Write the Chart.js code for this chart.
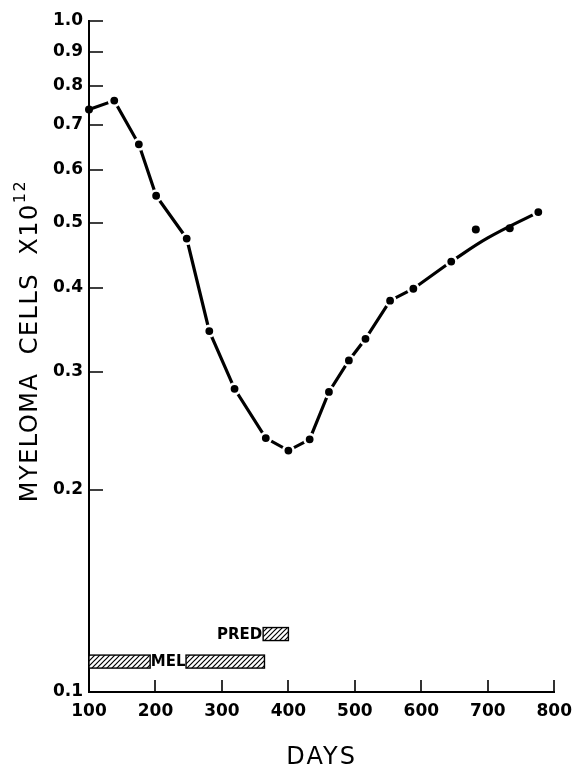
<!DOCTYPE html>
<html>
<head>
<meta charset="utf-8">
<script src="https://cdn.jsdelivr.net/npm/chart.js@4"></script>
<style>
    html, body { margin: 0; padding: 0; background: #fff; }
    #wrap { width: 581px; height: 769px; }
</style>
</head>
<body>
<div id="wrap"><canvas id="chart"></canvas></div>
<script>
// measured points (days, myeloma cells x 10^12)
const days = [100, 138, 175, 201, 247, 281, 319, 366, 400, 432, 461, 491, 516, 553, 588, 645, 682, 733, 776];
const cells = [0.738, 0.761, 0.655, 0.549, 0.474, 0.345, 0.283, 0.239, 0.229, 0.238, 0.280, 0.312, 0.336, 0.383, 0.399, 0.438, 0.489, 0.491, 0.519];
// the drawn line joins the first 16 points, then turns into a smooth curve
const joinedCount = 16;
const curveDays = [645, 700, 776];
const curveCells = [0.438, 0.475, 0.519];
// points that sit off the curve (no gap cut around them)
const offCurve = [0, 16, 17];

// treatment bars
const barNames = ['MEL', 'MEL', 'PRED'];
const barStart = [100, 246, 362];
const barEnd = [192, 364, 400];
const barLevel = [0.111, 0.111, 0.122];

// tick labels
const xTicks = [100, 200, 300, 400, 500, 600, 700, 800];
const yTicks = [0.1, 0.2, 0.3, 0.4, 0.5, 0.6, 0.7, 0.8, 0.9, 1.0];

const FONT = "'DejaVu Sans', sans-serif";

function makeHatch() {
    const c = document.createElement('canvas');
    c.width = 5; c.height = 5;
    const g = c.getContext('2d');
    g.strokeStyle = '#000';
    g.lineWidth = 1.2;
    g.beginPath();
    g.moveTo(0, 5); g.lineTo(5, 0);
    g.moveTo(-1, 1); g.lineTo(1, -1);
    g.moveTo(4, 6); g.lineTo(6, 4);
    g.stroke();
    return c;
}

const extras = {
    id: 'extras',
    afterDraw(chart) {
        const { ctx, chartArea, scales: { x, y } } = chart;
        ctx.save();

        // inward tick marks
        ctx.strokeStyle = '#000';
        ctx.lineWidth = 1.6;
        ctx.beginPath();
        yTicks.forEach(v => {
            const py = Math.round(y.getPixelForValue(v));
            ctx.moveTo(chartArea.left, py);
            ctx.lineTo(chartArea.left + 14, py);
        });
        xTicks.slice(1).forEach(v => {
            const px = Math.round(x.getPixelForValue(v));
            ctx.moveTo(px, chartArea.bottom);
            ctx.lineTo(px, chartArea.bottom - 12);
        });
        ctx.stroke();

        // hatched treatment bars
        const pattern = ctx.createPattern(makeHatch(), 'repeat');
        barNames.forEach((name, i) => {
            const x0 = x.getPixelForValue(barStart[i]);
            const x1 = x.getPixelForValue(barEnd[i]);
            const cy = y.getPixelForValue(barLevel[i]);
            ctx.fillStyle = '#fff';
            ctx.fillRect(x0, cy - 6.5, x1 - x0, 13);
            ctx.fillStyle = pattern;
            ctx.fillRect(x0, cy - 6.5, x1 - x0, 13);
            ctx.lineWidth = 1.4;
            ctx.strokeRect(x0, cy - 6.5, x1 - x0, 13);
        });
        ctx.fillStyle = '#000';
        ctx.font = 'bold 15px ' + FONT;
        ctx.textBaseline = 'middle';
        // MEL label sits in the gap between the two MEL bars
        const melY = y.getPixelForValue(barLevel[0]);
        const melMid = (x.getPixelForValue(barEnd[0]) + x.getPixelForValue(barStart[1])) / 2;
        ctx.textAlign = 'center';
        ctx.fillText('MEL', melMid, melY + 1);
        // PRED label to the left of its bar
        ctx.textAlign = 'right';
        ctx.fillText('PRED', x.getPixelForValue(barStart[2]) - 1, y.getPixelForValue(barLevel[2]) + 1);

        // axis titles
        ctx.font = '24px ' + FONT;
        ctx.letterSpacing = '2px';
        ctx.textAlign = 'center';
        ctx.textBaseline = 'middle';
        ctx.fillText('DAYS', (chartArea.left + chartArea.right) / 2, 758);

        ctx.translate(30, 341);
        ctx.rotate(-Math.PI / 2);
        ctx.letterSpacing = '1.5px';
        const main = 'MYELOMA  CELLS  X10';
        ctx.font = '24px ' + FONT;
        const w1 = ctx.measureText(main).width;
        ctx.font = '16px ' + FONT;
        const w2 = ctx.measureText('12').width;
        const sx = -(w1 + w2) / 2;
        ctx.textAlign = 'left';
        ctx.font = '24px ' + FONT;
        ctx.fillText(main, sx, 1);
        ctx.font = '16px ' + FONT;
        ctx.fillText('12', sx + w1, -9);
        ctx.restore();
    }
};

const ringWidth = c => offCurve.includes(c.dataIndex) ? 0 : 2.6;
const ringRadius = c => offCurve.includes(c.dataIndex) ? 4 : 5.2;

new Chart(document.getElementById('chart'), {
    type: 'scatter',
    data: {
        datasets: [
            {
                label: 'points',
                data: days.map((d, i) => ({ x: d, y: cells[i] })),
                showLine: false,
                pointRadius: ringRadius,
                pointBackgroundColor: '#000',
                pointBorderColor: '#fff',
                pointBorderWidth: ringWidth,
                clip: false,
                order: 0
            },
            {
                label: 'line',
                data: days.slice(0, joinedCount).map((d, i) => ({ x: d, y: cells[i] })),
                showLine: true,
                borderColor: '#000',
                borderWidth: 3.2,
                pointRadius: 0,
                tension: 0,
                clip: false,
                order: 1
            },
            {
                label: 'curve',
                data: curveDays.map((d, i) => ({ x: d, y: curveCells[i] })),
                showLine: true,
                borderColor: '#000',
                borderWidth: 3.2,
                pointRadius: 0,
                tension: 0.4,
                clip: false,
                order: 2
            }
        ]
    },
    options: {
        responsive: true,
        maintainAspectRatio: false,
        animation: false,
        layout: { padding: { top: 21, right: 17, left: 0, bottom: 0 } },
        plugins: {
            legend: { display: false },
            tooltip: { enabled: false }
        },
        scales: {
            x: {
                type: 'linear',
                min: 100,
                max: 800,
                afterBuildTicks: s => { s.ticks = xTicks.map(v => ({ value: v })); },
                afterFit: s => { s.height = 77; },
                grid: { display: false, drawTicks: false },
                border: { display: true, color: '#000', width: 2 },
                ticks: {
                    color: '#000',
                    padding: 9,
                    autoSkip: false,
                    maxRotation: 0,
                    font: { family: FONT, size: 17, weight: 'bold' },
                    callback: v => String(v)
                }
            },
            y: {
                type: 'logarithmic',
                min: 0.1,
                max: 1.0,
                afterBuildTicks: s => { s.ticks = yTicks.map(v => ({ value: v })); },
                afterFit: s => { s.width = 89; },
                grid: { display: false, drawTicks: false },
                border: { display: true, color: '#000', width: 2 },
                ticks: {
                    color: '#000',
                    padding: 6,
                    autoSkip: false,
                    font: { family: FONT, size: 17, weight: 'bold' },
                    callback: v => Number(v).toFixed(1)
                }
            }
        }
    },
    plugins: [extras]
});
</script>
</body>
</html>
